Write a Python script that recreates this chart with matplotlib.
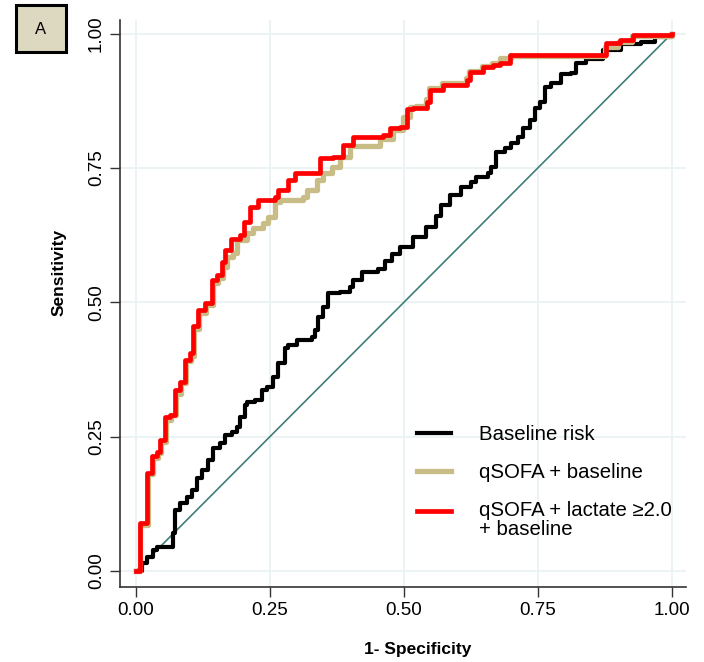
import matplotlib.pyplot as plt
from matplotlib.patches import Rectangle

plt.rcParams['font.family'] = ['Liberation Sans', 'DejaVu Sans']

# ROC curves (1-specificity, sensitivity)
base_fpr = [0, 0.0106, 0.0199, 0.0317, 0.0386, 0.0634, 0.0690, 0.0728, 0.0821, 0.0951,
            0.1045, 0.1138, 0.1231, 0.1343, 0.1437, 0.1567, 0.1660, 0.1791, 0.1884, 0.1940,
            0.2034, 0.2071, 0.2220, 0.2351, 0.2444, 0.2556, 0.2649, 0.2780, 0.2836, 0.3004,
            0.3284, 0.3340, 0.3396, 0.3489, 0.3582, 0.3806, 0.3993, 0.4049, 0.4216, 0.4515,
            0.4646, 0.4776, 0.4925, 0.5168, 0.5410, 0.5597, 0.5690, 0.5858, 0.6063, 0.6250,
            0.6343, 0.6567, 0.6623, 0.6716, 0.6884, 0.6996, 0.7127, 0.7220, 0.7351, 0.7444,
            0.7537, 0.7631, 0.7743, 0.7929, 0.8116, 0.8209, 0.8396, 0.8713, 0.9030, 0.9049,
            0.9422, 0.9683, 1.0]
base_tpr = [0, 0.015, 0.026, 0.039, 0.045, 0.045, 0.071, 0.114, 0.127, 0.138,
            0.151, 0.173, 0.188, 0.207, 0.229, 0.238, 0.253, 0.259, 0.268, 0.287,
            0.309, 0.315, 0.318, 0.337, 0.343, 0.361, 0.387, 0.415, 0.421, 0.430,
            0.436, 0.449, 0.473, 0.492, 0.518, 0.520, 0.529, 0.542, 0.557, 0.561,
            0.576, 0.589, 0.603, 0.622, 0.640, 0.661, 0.681, 0.700, 0.715, 0.723,
            0.734, 0.741, 0.752, 0.780, 0.788, 0.797, 0.808, 0.825, 0.840, 0.862,
            0.872, 0.900, 0.909, 0.924, 0.927, 0.946, 0.952, 0.970, 0.970, 0.980,
            0.985, 0.993, 1.0]

qsofa_fpr = [0, 0.008, 0.019, 0.022, 0.031, 0.041, 0.047, 0.056, 0.066, 0.075,
             0.084, 0.093, 0.103, 0.108, 0.118, 0.131, 0.144, 0.153, 0.163, 0.170,
             0.181, 0.188, 0.207, 0.218, 0.237, 0.246, 0.259, 0.269, 0.312, 0.319,
             0.338, 0.349, 0.366, 0.381, 0.399, 0.442, 0.455, 0.479, 0.498, 0.511,
             0.522, 0.541, 0.547, 0.571, 0.616, 0.621, 0.645, 0.664, 0.679, 0.700,
             0.860, 0.875, 0.900, 0.925, 1.0]
qsofa_tpr = [0, 0.085, 0.085, 0.180, 0.210, 0.220, 0.240, 0.280, 0.290, 0.330,
             0.350, 0.390, 0.400, 0.450, 0.480, 0.495, 0.535, 0.545, 0.565, 0.585,
             0.592, 0.616, 0.629, 0.639, 0.648, 0.659, 0.687, 0.691, 0.696, 0.709,
             0.728, 0.741, 0.752, 0.771, 0.790, 0.791, 0.803, 0.821, 0.845, 0.864,
             0.866, 0.878, 0.899, 0.909, 0.918, 0.931, 0.940, 0.946, 0.955, 0.958,
             0.958, 0.975, 0.985, 0.995, 1.0]

lact_fpr = [0, 0.0075, 0.017, 0.020, 0.029, 0.039, 0.045, 0.054, 0.063, 0.073,
            0.082, 0.091, 0.101, 0.106, 0.116, 0.129, 0.142, 0.151, 0.160, 0.166,
            0.177, 0.194, 0.201, 0.213, 0.228, 0.259, 0.265, 0.284, 0.297, 0.338,
            0.343, 0.367, 0.386, 0.405, 0.461, 0.474, 0.492, 0.506, 0.517, 0.543,
            0.549, 0.573, 0.618, 0.623, 0.647, 0.666, 0.679, 0.698, 0.866, 0.878,
            0.903, 0.927, 1.0]
lact_tpr = [0, 0.089, 0.089, 0.183, 0.213, 0.222, 0.244, 0.287, 0.291, 0.337,
            0.352, 0.393, 0.406, 0.455, 0.486, 0.499, 0.542, 0.551, 0.574, 0.598,
            0.618, 0.626, 0.650, 0.678, 0.691, 0.696, 0.709, 0.728, 0.741, 0.741,
            0.769, 0.771, 0.793, 0.808, 0.812, 0.825, 0.827, 0.859, 0.862, 0.873,
            0.896, 0.905, 0.914, 0.929, 0.937, 0.942, 0.946, 0.961, 0.961, 0.983,
            0.989, 0.998, 1.0]

labels = ['Baseline risk', 'qSOFA + baseline', 'qSOFA + lactate \u22652.0\n+ baseline']
ticks = [0, 0.25, 0.5, 0.75, 1.0]
tick_labels = ['0.00', '0.25', '0.50', '0.75', '1.00']

fig = plt.figure(figsize=(7.04, 6.62), dpi=100)
ax = fig.add_axes([0.1705, 0.1133, 0.8035, 0.857])

ax.plot([0, 1], [0, 1], color='#3d7f78', lw=1.2, zorder=2)
ax.plot(base_fpr, base_tpr, color='black', lw=3.0, drawstyle='steps-post',
        label=labels[0], zorder=3)
ax.plot(qsofa_fpr, qsofa_tpr, color='#c8bd86', lw=3.8, drawstyle='steps-post',
        label=labels[1], zorder=4)
ax.plot(lact_fpr, lact_tpr, color='#ff0000', lw=3.4, drawstyle='steps-post',
        label=labels[2], zorder=5)

ax.set_xlim(-0.03, 1.026)
ax.set_ylim(-0.03, 1.026)
ax.set_xticks(ticks)
ax.set_xticklabels(tick_labels)
ax.set_yticks(ticks)
ax.set_yticklabels(tick_labels, rotation=90, va='center')
ax.tick_params(labelsize=13.5, length=7, width=1, color='#333333', pad=4)
ax.grid(True, color='#eaf2f3', lw=1.3)
ax.set_axisbelow(True)
for s in ['top', 'right']:
    ax.spines[s].set_visible(False)
for s in ['left', 'bottom']:
    ax.spines[s].set_color('#333333')
    ax.spines[s].set_linewidth(1.2)

ax.set_xlabel('1- Specificity', fontsize=12.5, fontweight='bold')
ax.set_ylabel('Sensitivity', fontsize=12.5, fontweight='bold')
ax.xaxis.set_label_coords(0.527, -0.097)
ax.yaxis.set_label_coords(-0.095, 0.555)

leg = ax.legend(loc='upper left', bbox_to_anchor=(0.492, 0.318), frameon=False,
                fontsize=14.7, handlelength=1.67, handletextpad=1.37,
                labelspacing=0.93)
leg.get_texts()[2].set_linespacing(1.0)
# keep the red handle level with the first line of its two-line label
red_handle = leg.get_lines()[2]
red_handle.set_ydata([y + 7.0 for y in red_handle.get_ydata()])

# panel letter box
fig.patches.append(Rectangle((16 / 704, 1 - 52 / 662), 50 / 704, 47 / 662,
                             transform=fig.transFigure, facecolor='#ddd9c1',
                             edgecolor='black', lw=2.2))
fig.text(41 / 704, 1 - 29 / 662, 'A', ha='center', va='center', fontsize=12)

fig.savefig('out.png', dpi=100)
